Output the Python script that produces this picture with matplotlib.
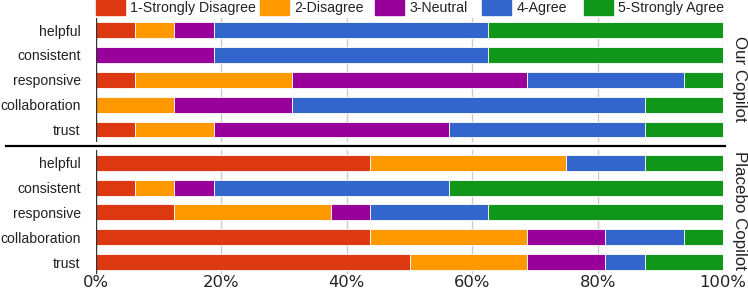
import matplotlib
matplotlib.use("Agg")
import matplotlib.pyplot as plt
from matplotlib.patches import Rectangle
from matplotlib.lines import Line2D
import numpy as np

questions = ["helpful", "consistent", "responsive", "collaboration", "trust"]
levels = ["1-Strongly Disagree", "2-Disagree", "3-Neutral", "4-Agree", "5-Strongly Agree"]
colors = ["#dc3912", "#ff9900", "#990099", "#3366cc", "#109618"]
groups = ["Our Copilot", "Placebo Copilot"]

# counts out of 16 respondents, per level (1..5)
our_counts = {
    "helpful":       [1, 1, 1, 7, 6],
    "consistent":    [0, 0, 3, 7, 6],
    "responsive":    [1, 4, 6, 4, 1],
    "collaboration": [0, 2, 3, 9, 2],
    "trust":         [1, 2, 6, 5, 2],
}
placebo_counts = {
    "helpful":       [7, 5, 0, 2, 2],
    "consistent":    [1, 1, 1, 6, 7],
    "responsive":    [2, 4, 1, 3, 6],
    "collaboration": [7, 4, 2, 2, 1],
    "trust":         [8, 3, 2, 1, 2],
}
xticks = [0, 20, 40, 60, 80, 100]
xticklabels = ["0%", "20%", "40%", "60%", "80%", "100%"]

W, H = 748, 288
fig = plt.figure(figsize=(W / 100, H / 100), dpi=100)
SANS = ["Liberation Sans", "DejaVu Sans"]


def px(x0, y0, x1, y1):
    return [x0 / W, 1 - y1 / H, (x1 - x0) / W, (y1 - y0) / H]


def draw_panel(ax, data, show_x):
    y = np.arange(len(questions))
    left = np.zeros(len(questions))
    for i, lev in enumerate(levels):
        vals = np.array([data[q][i] for q in questions], dtype=float)
        tot = np.array([sum(data[q]) for q in questions], dtype=float)
        pct = vals / tot * 100
        ax.barh(y, pct, left=left, height=0.64, color=colors[i],
                edgecolor="white", linewidth=0.6, zorder=3)
        left += pct
    ax.set_xlim(0, 100)
    ax.set_ylim(4.5, -0.5)
    ax.set_yticks(y)
    ax.set_yticklabels(questions, fontsize=10.1, family=SANS, color="#222222")
    ax.tick_params(axis="y", length=0, pad=11)
    ax.set_xticks(xticks)
    for xv in xticks[1:]:
        ax.axvline(xv, color="#cccccc", linewidth=1.0, zorder=1)
    ax.axvline(0, color="#333333", linewidth=1.0, zorder=4)
    for s in ax.spines.values():
        s.set_visible(False)
    if show_x:
        ax.set_xticklabels(xticklabels, fontsize=11.8, family=["DejaVu Sans"],
                           color="#222222")
        ax.tick_params(axis="x", length=0, pad=0.5)
    else:
        ax.set_xticklabels([])
        ax.tick_params(axis="x", length=0)


ax1 = fig.add_axes(px(96, 17.6, 723, 141.9))
draw_panel(ax1, our_counts, False)
ax2 = fig.add_axes(px(96, 150.4, 723, 274.4))
draw_panel(ax2, placebo_counts, True)

# separator line
fig.add_artist(Line2D([6 / W, 725 / W], [1 - 146 / H, 1 - 146 / H],
                      color="black", linewidth=1.6))

# side labels
fig.text(740 / W, 1 - 79 / H, groups[0], rotation=270, ha="center", va="center",
         fontsize=12.2, family=SANS, color="#222222")
fig.text(740 / W, 1 - 210 / H, groups[1], rotation=270, ha="center", va="center",
         fontsize=12.2, family=SANS, color="#222222")

# legend (manual)
patch_x = [96, 260, 375, 482, 584]
for xp, lab, c in zip(patch_x, levels, colors):
    fig.add_artist(Rectangle((xp / W, 1 - 14.5 / H), 28.5 / W, 15 / H,
                             transform=fig.transFigure, color=c))
    fig.text((xp + 34.5) / W, 1 - 8 / H, lab, ha="left", va="center",
             fontsize=10.2, family=SANS, color="#222222")

fig.savefig("out.png", dpi=100)
